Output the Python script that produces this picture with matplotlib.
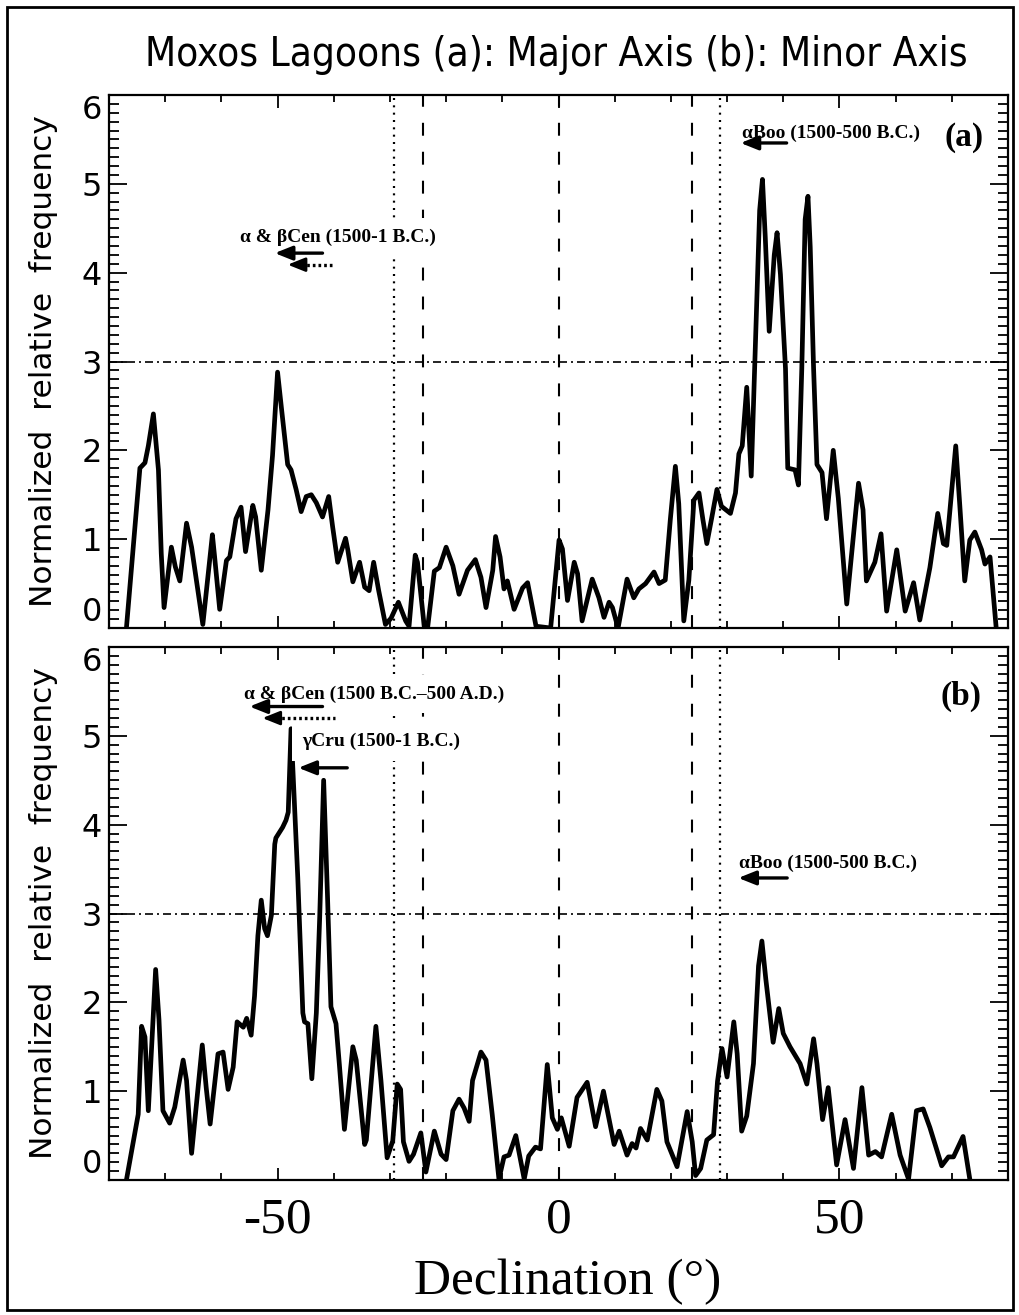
import matplotlib
matplotlib.use('Agg')
import matplotlib.pyplot as plt
from matplotlib.ticker import FixedLocator, MultipleLocator
from matplotlib.patches import Rectangle

# ---------------- data ----------------
top_dec = [-76.9, -74.5, -73.6, -73.0, -72.1, -71.2, -70.7, -70.2, -68.9, -68.2, -67.4, -66.2, -65.3, -63.3,
           -61.6, -61.2, -60.3, -59.1, -58.5, -57.4, -56.5, -55.7, -54.4, -53.9, -52.9, -51.7, -50.9, -50.0,
           -49.3, -48.2, -47.6, -46.7, -45.8, -44.9, -44.0, -43.1, -42.0, -40.9, -40.2, -39.3, -37.9, -37.5,
           -36.6, -35.4, -34.5, -33.7, -32.9, -32.0, -30.8, -29.8, -28.5, -27.2, -26.6, -25.5, -25.1, -23.9,
           -23.3, -22.1, -21.2, -20.0, -18.8, -17.7, -16.2, -14.8, -13.8, -12.9, -11.7, -11.2, -10.4, -9.7,
           -9.1, -7.9, -6.4, -5.5, -4.0, -1.4, 0.1, 0.7, 1.6, 2.8, 3.4, 4.2, 6.0, 7.2, 8.1, 9.0, 9.6, 10.6,
           12.2, 13.4, 14.3, 15.5, 17.0, 17.9, 19.0, 19.9, 20.8, 21.4, 22.3, 23.2, 24.1, 25.0, 25.7, 26.4,
           27.3, 28.2, 29.0, 30.6, 31.5, 32.1, 32.7, 33.5, 34.3, 34.9, 35.8, 36.3, 36.8, 37.5, 38.4, 38.9, 39.5, 40.4,
           40.8, 42.1, 42.7, 43.3, 43.9, 44.4, 44.8, 45.4, 46.0, 46.9, 47.7, 48.9, 49.8, 51.3, 53.4, 54.2, 54.8,
           56.3, 57.4, 58.4, 60.2, 61.7, 63.2, 64.3, 66.1, 67.5, 68.5, 69.1, 70.7, 71.4, 72.3, 73.2, 74.1,
           75.3, 75.9, 76.8, 77.9]
top_freq = [0.0, 1.80, 1.86, 2.05, 2.41, 1.78, 0.84, 0.23, 0.91, 0.69, 0.53, 1.18, 0.91, 0.04,
            1.05, 0.80, 0.21, 0.76, 0.80, 1.23, 1.36, 0.86, 1.38, 1.25, 0.65, 1.33, 1.94, 2.88,
            2.47, 1.84, 1.78, 1.56, 1.31, 1.48, 1.50, 1.41, 1.25, 1.48, 1.14, 0.74, 1.01, 0.88,
            0.52, 0.74, 0.46, 0.42, 0.74, 0.42, 0.04, 0.11, 0.29, 0.08, 0.02, 0.82, 0.74, 0.02,
            0.0, 0.64, 0.68, 0.91, 0.70, 0.38, 0.65, 0.77, 0.57, 0.23, 0.65, 1.03, 0.80, 0.44,
            0.53, 0.21, 0.45, 0.51, 0.02, 0.0, 0.99, 0.89, 0.31, 0.74, 0.61, 0.08, 0.55, 0.34, 0.12, 0.29, 0.23, 0.0,
            0.55, 0.34, 0.44, 0.50, 0.63, 0.50, 0.54, 1.22, 1.82, 1.40, 0.08, 0.54, 1.44, 1.52, 1.22, 0.95,
            1.25, 1.56, 1.37, 1.29, 1.52, 1.96, 2.05, 2.71, 1.71, 2.92, 4.70, 5.05, 4.40, 3.34, 4.20, 4.45, 3.98, 2.92,
            1.80, 1.78, 1.61, 2.92, 4.60, 4.86, 4.29, 2.92, 1.84, 1.75, 1.23, 2.00, 1.46, 0.27, 1.63, 1.33, 0.53,
            0.74, 1.06, 0.19, 0.88, 0.19, 0.51, 0.09, 0.68, 1.29, 0.95, 0.93, 2.05, 1.40, 0.53, 0.99, 1.08,
            0.88, 0.72, 0.80, 0.0]

bot_dec = [-76.9, -74.8, -74.2, -73.6, -73.0, -71.7, -71.1, -70.4, -69.2, -68.3, -66.8, -66.2, -65.3, -63.4,
           -62.7, -62.0, -60.6, -59.7, -58.8, -57.9, -57.2, -56.1, -55.5, -54.7, -54.1, -53.5, -52.9, -52.3,
           -51.8, -51.1, -50.5, -50.3, -49.1, -48.5, -48.1, -47.6, -46.4, -45.5, -45.2, -44.6, -43.9, -43.1,
           -42.5, -41.8, -41.1, -40.5, -39.6, -39.0, -38.1, -36.6, -36.0, -34.5, -34.2, -32.5, -31.6, -30.5,
           -29.5, -28.7, -28.1, -27.6, -26.6, -25.8, -24.5, -23.6, -22.1, -20.9, -20.0, -18.8, -17.7, -16.8,
           -15.9, -15.3, -13.8, -12.9, -11.8, -10.6, -9.7, -8.8, -7.6, -6.9, -6.1, -5.3, -4.1, -3.2, -2.0,
           -1.1, -0.2, 0.5, 1.9, 3.3, 5.1, 6.6, 8.0, 9.9, 10.8, 12.2, 13.1, 13.8, 14.6, 15.8, 17.5, 18.4,
           19.3, 21.1, 22.9, 23.8, 24.4, 25.3, 26.4, 27.6, 28.3, 29.1, 30.0, 31.2, 31.8, 32.6, 33.5, 34.7,
           35.6, 36.2, 36.9, 38.2, 39.2, 40.0, 41.2, 43.0, 44.2, 45.4, 46.0, 47.0, 48.0, 49.5, 51.0, 52.5,
           54.0, 55.2, 56.4, 57.5, 59.3, 60.8, 62.3, 63.7, 64.9, 66.1, 68.2, 69.4, 70.3, 72.0, 73.2]
bot_freq = [0.0, 0.74, 1.73, 1.61, 0.78, 2.37, 1.80, 0.78, 0.64, 0.82, 1.35, 1.12, 0.30, 1.52,
            1.04, 0.63, 1.42, 1.44, 1.02, 1.27, 1.78, 1.72, 1.82, 1.63, 2.07, 2.75, 3.15, 2.83,
            2.75, 2.98, 3.78, 3.85, 3.97, 4.05, 4.14, 5.08, 3.40, 1.88, 1.78, 1.76, 1.14, 1.88,
            2.96, 4.50, 3.17, 1.95, 1.76, 1.30, 0.57, 1.50, 1.35, 0.40, 0.45, 1.73, 1.12, 0.25,
            0.44, 1.08, 1.02, 0.43, 0.21, 0.29, 0.53, 0.09, 0.55, 0.29, 0.23, 0.78, 0.91, 0.81,
            0.66, 1.12, 1.44, 1.35, 0.74, 0.01, 0.26, 0.28, 0.50, 0.27, 0.01, 0.27, 0.37, 0.35, 1.30,
            0.70, 0.57, 0.70, 0.38, 0.93, 1.10, 0.60, 1.00, 0.40, 0.55, 0.28, 0.41, 0.36, 0.58, 0.45, 1.02, 0.89,
            0.43, 0.15, 0.77, 0.43, 0.05, 0.13, 0.45, 0.51, 1.11, 1.48, 1.16, 1.78, 1.42, 0.55, 0.72, 1.31,
            2.41, 2.69, 2.26, 1.55, 1.93, 1.65, 1.50, 1.31, 1.08, 1.59, 1.31, 0.68, 1.04, 0.17, 0.68, 0.13,
            1.04, 0.28, 0.32, 0.26, 0.74, 0.28, 0.01, 0.78, 0.80, 0.59, 0.16, 0.26, 0.26, 0.49, 0.01]

dashed_dec = [-24.2, 0.0, 23.7]
dotted_dec = [-29.2, 28.7]
threshold = 3.0
x_major = [-50, 0, 50]
x_tick_labels = ['-50', '0', '50']
y_major = [0, 1, 2, 3, 4, 5, 6]
y_tick_labels = ['0', '1', '2', '3', '4', '5', '6']

title = 'Moxos Lagoons (a): Major Axis (b): Minor Axis'
ylabel = 'Normalized  relative  frequency'
xlabel = 'Declination (°)'

# ---------------- figure ----------------
W, H = 1019, 1315
fig = plt.figure(figsize=(W / 100, H / 100), dpi=100)
fig.patch.set_facecolor('white')
fig.patches.append(Rectangle((7 / W, 5 / H), (1013 - 7) / W, (1308 - 5) / H,
                             transform=fig.transFigure, fill=False, lw=2.0, ec='black'))

SERIF = ['Liberation Serif', 'DejaVu Serif']
SANS = ['DejaVu Sans']

ax_left, ax_w, ax_h = 109 / W, 899 / W, 533 / H
ax1 = fig.add_axes([ax_left, 1 - 628 / H, ax_w, ax_h])
ax2 = fig.add_axes([ax_left, 1 - 1180 / H, ax_w, ax_h])

for ax, xs, ys in ((ax1, top_dec, top_freq), (ax2, bot_dec, bot_freq)):
    ax.set_xlim(-80, 80)
    ax.set_ylim(0, 6)
    for d in dashed_dec:
        ax.axvline(d, color='black', lw=1.5, dashes=(6.2, 7.7), zorder=1)
    for d in dotted_dec:
        ax.axvline(d, color='black', lw=1.6, dashes=(0.9, 2.4), zorder=1)
    ax.axhline(threshold, color='black', lw=1.2, dashes=(4.8, 2.4, 1.2, 2.4), zorder=1)
    ax.plot(xs, ys, color='black', lw=3.4, solid_joinstyle='round', solid_capstyle='round', zorder=3)

    ax.xaxis.set_major_locator(FixedLocator(x_major))
    ax.xaxis.set_minor_locator(MultipleLocator(10))
    ax.yaxis.set_major_locator(FixedLocator(y_major))
    ax.yaxis.set_minor_locator(MultipleLocator(0.1))
    labs = ax.set_yticklabels(y_tick_labels, fontfamily=SANS, fontsize=23)
    labs[0].set_verticalalignment('bottom')
    labs[-1].set_verticalalignment('top')
    ax.xaxis.set_tick_params(which='major', direction='in', length=9, width=1.3, top=True, bottom=True)
    ax.xaxis.set_tick_params(which='minor', direction='in', length=5, width=1.3, top=True, bottom=True)
    ax.yaxis.set_tick_params(which='major', direction='in', length=13, width=1.3, left=True, right=True, pad=5)
    ax.yaxis.set_tick_params(which='minor', direction='in', length=7, width=1.3, left=True, right=True)
    for s in ax.spines.values():
        s.set_linewidth(1.6)

ax1.tick_params(axis='x', labelbottom=False)
ax2.set_xticklabels(x_tick_labels, fontfamily=SERIF, fontsize=37)
ax2.tick_params(axis='x', which='major', pad=12)

# y labels for both panels
for cy in ((95 + 628) / 2, (647 + 1180) / 2):
    fig.text(44 / W, 1 - cy / H, ylabel, rotation=90, ha='center', va='center',
             fontfamily=SANS, fontsize=22.5)

fig.text(556 / W, 1 - 55 / H, title, ha='center', va='center', fontfamily=SANS,
         fontstretch='condensed', fontsize=29)
fig.text(568 / W, 1 - 1282 / H, xlabel, ha='center', va='center', fontfamily=SERIF, fontsize=37)

# ---------------- annotations ----------------
box = dict(boxstyle='square,pad=0.55', fc='white', ec='none')
ann_kw = dict(fontfamily=SERIF, fontweight='bold', fontsize=14, ha='left', va='center', zorder=5, bbox=box)


def solid_arrow(ax, x_tail, x_head, y):
    ax.annotate('', xy=(x_head, y), xytext=(x_tail, y),
                arrowprops=dict(arrowstyle='-|>,head_length=0.75,head_width=0.3', lw=2.4,
                                color='black', mutation_scale=14, shrinkA=0, shrinkB=0), zorder=6)


def dotted_arrow(ax, x_tail, x_head, y):
    x_base = x_head + 2.4
    ax.plot([x_base, x_tail], [y, y], color='black', lw=2.4, dashes=(0.8, 0.9), zorder=6)
    ax.annotate('', xy=(x_head, y), xytext=(x_base, y),
                arrowprops=dict(arrowstyle='-|>,head_length=0.75,head_width=0.3', lw=2.0,
                                color='black', mutation_scale=14, shrinkA=0, shrinkB=0), zorder=6)


# panel (a)
ax1.text(-56.7, 4.40, 'α & βCen (1500-1 B.C.)', **ann_kw)
solid_arrow(ax1, -42.0, -50.5, 4.22)
dotted_arrow(ax1, -39.9, -48.2, 4.09)
ax1.text(32.6, 5.57, 'αBoo (1500-500 B.C.)', **ann_kw)
solid_arrow(ax1, 40.6, 32.4, 5.46)
ax1.text(72.2, 5.52, '(a)', fontfamily=SERIF, fontweight='bold', fontsize=24, ha='center', va='center')

# panel (b)
ax2.text(-55.9, 5.47, 'α & βCen (1500 B.C.–500 A.D.)', **ann_kw)
solid_arrow(ax2, -42.0, -55.0, 5.33)
dotted_arrow(ax2, -39.7, -52.7, 5.20)
ax2.text(-45.6, 4.94, 'γCru (1500-1 B.C.)', **ann_kw)
solid_arrow(ax2, -37.6, -46.3, 4.64)
ax2.text(32.2, 3.57, 'αBoo (1500-500 B.C.)', **ann_kw)
solid_arrow(ax2, 40.7, 32.0, 3.40)
ax2.text(71.7, 5.44, '(b)', fontfamily=SERIF, fontweight='bold', fontsize=24, ha='center', va='center')

fig.savefig('out.png', dpi=100, facecolor='white')
